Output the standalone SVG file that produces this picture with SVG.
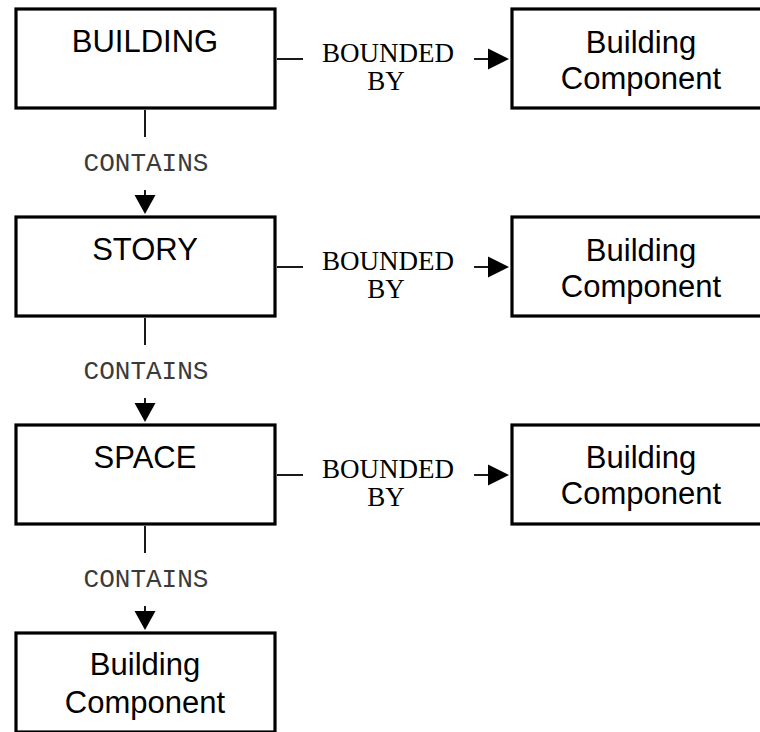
<svg xmlns="http://www.w3.org/2000/svg" width="760" height="732" viewBox="0 0 760 732">
  <style>
    .box { fill: #fff; stroke: #000; stroke-width: 3.2; }
    .lbl { font-family: "Liberation Sans", Arial, sans-serif; font-size: 31px; fill: #000; text-anchor: middle; }
    .rel { font-family: "Liberation Serif", "Times New Roman", serif; font-size: 27px; fill: #000; text-anchor: middle; }
    .mono { font-family: "Liberation Mono", "Courier New", monospace; font-size: 26px; fill: #3a3a3a; text-anchor: middle; }
    .line { stroke: #000; stroke-width: 1.8; fill: none; }
    .head { fill: #000; stroke: none; }
  </style>

  <rect width="760" height="732" fill="#fff"/>

  <!-- hierarchy column -->
  <g id="building">
    <rect class="box" x="16" y="9" width="259" height="99"/>
    <text class="lbl" x="145" y="52">BUILDING</text>
  </g>
  <g id="story">
    <rect class="box" x="16" y="217" width="259" height="99"/>
    <text class="lbl" x="145" y="260">STORY</text>
  </g>
  <g id="space">
    <rect class="box" x="16" y="425" width="259" height="99"/>
    <text class="lbl" x="145" y="468">SPACE</text>
  </g>
  <g id="component-contained">
    <rect class="box" x="16" y="633" width="259" height="99"/>
    <text class="lbl" x="145" y="675">Building</text>
    <text class="lbl" x="145" y="713">Component</text>
  </g>

  <!-- boundary components, right column -->
  <g id="component-building">
    <rect class="box" x="512" y="9" width="259" height="99"/>
    <text class="lbl" x="641" y="53">Building</text>
    <text class="lbl" x="641" y="89">Component</text>
  </g>
  <g id="component-story">
    <rect class="box" x="512" y="217" width="259" height="99"/>
    <text class="lbl" x="641" y="261">Building</text>
    <text class="lbl" x="641" y="297">Component</text>
  </g>
  <g id="component-space">
    <rect class="box" x="512" y="425" width="259" height="99"/>
    <text class="lbl" x="641" y="468">Building</text>
    <text class="lbl" x="641" y="504">Component</text>
  </g>

  <!-- connectors -->
  <g id="connectors">
    <!-- CONTAINS: building -> story -->
    <line class="line" x1="145" y1="110" x2="145" y2="137"/>
    <text class="mono" x="146" y="171">CONTAINS</text>
    <line class="line" x1="145" y1="190" x2="145" y2="196"/>
    <polygon class="head" points="134.5,195 155.5,195 145,214"/>

    <!-- CONTAINS: story -> space -->
    <line class="line" x1="145" y1="318" x2="145" y2="345"/>
    <text class="mono" x="146" y="379">CONTAINS</text>
    <line class="line" x1="145" y1="398" x2="145" y2="404"/>
    <polygon class="head" points="134.5,403 155.5,403 145,422"/>

    <!-- CONTAINS: space -> component -->
    <line class="line" x1="145" y1="526" x2="145" y2="553"/>
    <text class="mono" x="146" y="587">CONTAINS</text>
    <line class="line" x1="145" y1="606" x2="145" y2="612"/>
    <polygon class="head" points="134.5,611 155.5,611 145,630"/>

    <!-- BOUNDED BY: building -->
    <line class="line" x1="277" y1="59" x2="303" y2="59"/>
    <text class="rel" x="388" y="62">BOUNDED</text>
    <text class="rel" x="386" y="90">BY</text>
    <line class="line" x1="474" y1="59" x2="489" y2="59"/>
    <polygon class="head" points="488,48.5 488,69.5 509,59"/>

    <!-- BOUNDED BY: story -->
    <line class="line" x1="277" y1="267" x2="303" y2="267"/>
    <text class="rel" x="388" y="270">BOUNDED</text>
    <text class="rel" x="386" y="298">BY</text>
    <line class="line" x1="474" y1="267" x2="489" y2="267"/>
    <polygon class="head" points="488,256.5 488,277.5 509,267"/>

    <!-- BOUNDED BY: space -->
    <line class="line" x1="277" y1="475" x2="303" y2="475"/>
    <text class="rel" x="388" y="478">BOUNDED</text>
    <text class="rel" x="386" y="506">BY</text>
    <line class="line" x1="474" y1="475" x2="489" y2="475"/>
    <polygon class="head" points="488,464.5 488,485.5 509,475"/>
  </g>
</svg>
